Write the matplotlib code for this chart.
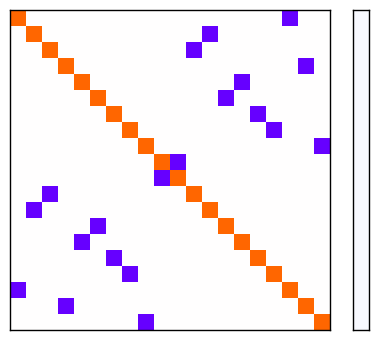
import matplotlib
matplotlib.use('Agg')
import matplotlib.pyplot as plt
import numpy as np
from matplotlib.colors import LinearSegmentedColormap

n = 20
# column of the negative entry in each row (symmetric permutation)
neg_cols = [17, 12, 11, 18, 14, 13, 15, 16, 19, 10, 9, 2, 1, 5, 4, 6, 7, 0, 3, 8]
diag_value = 1.0
neg_value = -1.0

mat = np.zeros((n, n))
for i in range(n):
    mat[i, i] = diag_value
    mat[i, neg_cols[i]] = neg_value

cmap = LinearSegmentedColormap.from_list('po', ['#6600ff', '#ffffff', '#ff6600'])

fig = plt.figure(figsize=(3.78, 3.40), dpi=100)
ax = fig.add_axes([10 / 378, 10 / 340, 320 / 378, 320 / 340])
ax.imshow(mat, cmap=cmap, vmin=-1, vmax=1, interpolation='nearest', aspect='auto')
ax.set_xticks([])
ax.set_yticks([])
for s in ax.spines.values():
    s.set_linewidth(1.0)
    s.set_color('black')

cax = fig.add_axes([353 / 378, 10 / 340, 16 / 378, 320 / 340])
cax.set_facecolor('#f8f9ff')
cax.set_xticks([])
cax.set_yticks([])
for s in cax.spines.values():
    s.set_linewidth(1.0)
    s.set_color('black')

fig.savefig('out.png', dpi=100)
